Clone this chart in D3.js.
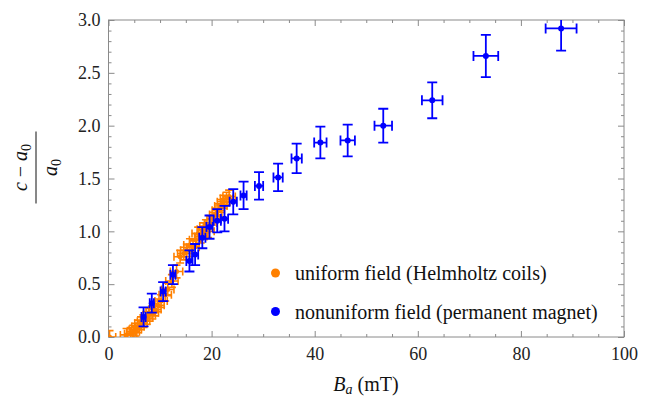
<!DOCTYPE html>
<html>
<head>
<meta charset="utf-8">
<script src="https://cdn.jsdelivr.net/npm/d3@7"></script>
<style>
  body { margin: 0; background: #fff; }
  text { font-family: "Liberation Serif", "Times New Roman", serif; }
</style>
</head>
<body>
<div id="chart"></div>
<script>
var width = 654,
    height = 399;

// uniform field (Helmholtz coils)
var uniformB = [0.2, 3.5, 4.3, 4.8, 5.2, 5.7, 6.3, 6.8, 7.4, 7.9, 8.5, 9.0, 9.6, 10.2, 11.0, 11.5, 12.3, 13.2, 13.9, 14.6, 15.2, 15.8, 16.4, 16.9, 17.4, 17.9, 18.4, 18.9, 19.3, 19.8, 20.3, 20.8, 21.3, 21.8, 22.3, 22.9, 23.4];
var uniformY = [0.0, 0.02, 0.03, 0.05, 0.07, 0.10, 0.13, 0.15, 0.18, 0.21, 0.23, 0.26, 0.30, 0.34, 0.40, 0.45, 0.53, 0.62, 0.76, 0.79, 0.82, 0.87, 0.85, 0.92, 0.98, 0.95, 1.02, 1.05, 1.00, 1.08, 1.12, 1.16, 1.20, 1.24, 1.28, 1.31, 1.33];
var uniformBErr = 1.2;
var uniformYErr = 0.06;

// nonuniform field (permanent magnet)
var magnetB = [6.8, 8.4, 10.6, 12.5, 15.7, 16.8, 18.2, 19.6, 21.1, 22.5, 24.2, 26.2, 29.2, 32.9, 36.5, 41.1, 46.4, 53.3, 62.8, 73.2, 87.8];
var magnetY = [0.19, 0.32, 0.43, 0.59, 0.72, 0.78, 0.94, 1.04, 1.10, 1.12, 1.28, 1.34, 1.43, 1.51, 1.69, 1.84, 1.86, 2.00, 2.24, 2.66, 2.92];
var magnetBErr = [0.4, 0.4, 0.5, 0.5, 0.6, 0.6, 0.6, 0.6, 0.7, 0.7, 0.7, 0.6, 0.8, 0.9, 1.0, 1.2, 1.4, 1.7, 2.0, 2.4, 3.0];
var magnetYErr = [0.09, 0.09, 0.09, 0.09, 0.10, 0.10, 0.10, 0.11, 0.11, 0.12, 0.12, 0.13, 0.13, 0.13, 0.14, 0.15, 0.15, 0.16, 0.17, 0.20, 0.21];

var xTicks = [0, 20, 40, 60, 80, 100];
var yTicks = [0.0, 0.5, 1.0, 1.5, 2.0, 2.5, 3.0];
var legendLabels = ["uniform field (Helmholtz coils)", "nonuniform field (permanent magnet)"];

var orange = "#ff8000",
    blue = "#0000ff",
    frameColor = "#8a8a8a";

var plotLeft = 108.5, plotRight = 624, plotTop = 20, plotBottom = 337;

var x = d3.scaleLinear().domain([0, 100]).range([plotLeft, plotRight]);
var y = d3.scaleLinear().domain([0, 3]).range([plotBottom, plotTop]);

var svg = d3.select("#chart").append("svg")
    .attr("width", width)
    .attr("height", height);

svg.append("defs").append("clipPath").attr("id", "clip")
  .append("rect")
    .attr("x", plotLeft).attr("y", plotTop)
    .attr("width", plotRight - plotLeft).attr("height", plotBottom - plotTop);

var xMinor = d3.range(0, 101, 5).filter(function(d) { return d % 20 != 0; });
var yMinor = d3.range(0, 31, 1).filter(function(d) { return d % 5 != 0; }).map(function(d) { return d / 10; });

function styleAxis(g) {
  g.select(".domain").remove();
  g.selectAll(".tick line").attr("stroke", frameColor);
  g.selectAll(".tick text").attr("fill", "#222").style("font-size", "18px")
    .style("font-family", "'Liberation Serif', serif");
}

// major + minor ticks on all four sides, pointing inward
svg.append("g").attr("transform", "translate(0," + plotBottom + ")")
    .call(d3.axisBottom(x).tickValues(xTicks).tickSize(-6).tickPadding(10).tickFormat(d3.format("d")))
    .call(styleAxis);
svg.append("g").attr("transform", "translate(0," + plotBottom + ")")
    .call(d3.axisBottom(x).tickValues(xMinor).tickSize(-3).tickFormat(""))
    .call(styleAxis);
svg.append("g").attr("transform", "translate(0," + plotTop + ")")
    .call(d3.axisTop(x).tickValues(xTicks).tickSize(-6).tickFormat(""))
    .call(styleAxis);
svg.append("g").attr("transform", "translate(0," + plotTop + ")")
    .call(d3.axisTop(x).tickValues(xMinor).tickSize(-3).tickFormat(""))
    .call(styleAxis);

svg.append("g").attr("transform", "translate(" + plotLeft + ",0)")
    .call(d3.axisLeft(y).tickValues(yTicks).tickSize(-6).tickPadding(8).tickFormat(d3.format(".1f")))
    .call(styleAxis);
svg.append("g").attr("transform", "translate(" + plotLeft + ",0)")
    .call(d3.axisLeft(y).tickValues(yMinor).tickSize(-3).tickFormat(""))
    .call(styleAxis);
svg.append("g").attr("transform", "translate(" + plotRight + ",0)")
    .call(d3.axisRight(y).tickValues(yTicks).tickSize(-6).tickFormat(""))
    .call(styleAxis);
svg.append("g").attr("transform", "translate(" + plotRight + ",0)")
    .call(d3.axisRight(y).tickValues(yMinor).tickSize(-3).tickFormat(""))
    .call(styleAxis);

svg.append("rect")
    .attr("x", plotLeft).attr("y", plotTop)
    .attr("width", plotRight - plotLeft).attr("height", plotBottom - plotTop)
    .attr("fill", "none")
    .attr("stroke", frameColor)
    .attr("stroke-width", 1);

// error bars with caps
function drawSeries(bs, ys, bErr, yErr, color, cap, r, sw) {
  var data = bs.map(function(b, i) {
    return {
      b: b, v: ys[i],
      eb: Array.isArray(bErr) ? bErr[i] : bErr,
      ev: Array.isArray(yErr) ? yErr[i] : yErr
    };
  });
  var g = svg.append("g").attr("clip-path", "url(#clip)")
      .attr("stroke", color).attr("stroke-width", sw).attr("fill", "none");
  var pts = g.selectAll("g").data(data).enter().append("g");
  // vertical
  pts.append("line")
      .attr("x1", function(d) { return x(d.b); }).attr("x2", function(d) { return x(d.b); })
      .attr("y1", function(d) { return y(d.v - d.ev); }).attr("y2", function(d) { return y(d.v + d.ev); });
  pts.append("line")
      .attr("x1", function(d) { return x(d.b) - cap; }).attr("x2", function(d) { return x(d.b) + cap; })
      .attr("y1", function(d) { return y(d.v - d.ev); }).attr("y2", function(d) { return y(d.v - d.ev); });
  pts.append("line")
      .attr("x1", function(d) { return x(d.b) - cap; }).attr("x2", function(d) { return x(d.b) + cap; })
      .attr("y1", function(d) { return y(d.v + d.ev); }).attr("y2", function(d) { return y(d.v + d.ev); });
  // horizontal
  pts.append("line")
      .attr("x1", function(d) { return x(d.b - d.eb); }).attr("x2", function(d) { return x(d.b + d.eb); })
      .attr("y1", function(d) { return y(d.v); }).attr("y2", function(d) { return y(d.v); });
  pts.append("line")
      .attr("x1", function(d) { return x(d.b - d.eb); }).attr("x2", function(d) { return x(d.b - d.eb); })
      .attr("y1", function(d) { return y(d.v) - cap; }).attr("y2", function(d) { return y(d.v) + cap; });
  pts.append("line")
      .attr("x1", function(d) { return x(d.b + d.eb); }).attr("x2", function(d) { return x(d.b + d.eb); })
      .attr("y1", function(d) { return y(d.v) - cap; }).attr("y2", function(d) { return y(d.v) + cap; });
  pts.append("circle")
      .attr("cx", function(d) { return x(d.b); })
      .attr("cy", function(d) { return y(d.v); })
      .attr("r", r)
      .attr("stroke", "none")
      .attr("fill", color);
}

drawSeries(uniformB, uniformY, uniformBErr, uniformYErr, orange, 4, 2.5, 1.6);
drawSeries(magnetB, magnetY, magnetBErr, magnetYErr, blue, 5, 3, 1.8);

// legend
var legend = svg.append("g");
[orange, blue].forEach(function(c, i) {
  legend.append("circle").attr("cx", 275.5).attr("cy", 273 + i * 38.5).attr("r", 4.5).attr("fill", c);
  legend.append("text").attr("x", 295).attr("y", 273 + i * 38.5).attr("dy", "0.35em")
      .style("font-size", "20px").attr("fill", "#111").text(legendLabels[i]);
});

// x label
var xl = svg.append("text").attr("x", 366).attr("y", 391).attr("text-anchor", "middle")
    .style("font-size", "20px").attr("fill", "#111");
xl.append("tspan").style("font-style", "italic").text("B");
xl.append("tspan").style("font-style", "italic").style("font-size", "14px").attr("dy", 3).text("a");
xl.append("tspan").attr("dy", -3).text(" (mT)");

// y label: fraction, rotated
var yl = svg.append("g").attr("transform", "translate(36,167.5) rotate(-90)");
var num = yl.append("text").attr("x", 0).attr("y", -9).attr("text-anchor", "middle")
    .style("font-size", "20px").attr("fill", "#111");
num.append("tspan").style("font-style", "italic").text("c");
num.append("tspan").text(" \u2212 ");
num.append("tspan").style("font-style", "italic").text("a");
num.append("tspan").style("font-size", "14px").attr("dy", 4).text("0");
yl.append("line").attr("x1", -36).attr("x2", 36).attr("y1", 0).attr("y2", 0)
    .attr("stroke", "#111").attr("stroke-width", 1);
var den = yl.append("text").attr("x", 0).attr("y", 21).attr("text-anchor", "middle")
    .style("font-size", "20px").attr("fill", "#111");
den.append("tspan").style("font-style", "italic").text("a");
den.append("tspan").style("font-size", "14px").attr("dy", 4).text("0");
</script>
</body>
</html>
